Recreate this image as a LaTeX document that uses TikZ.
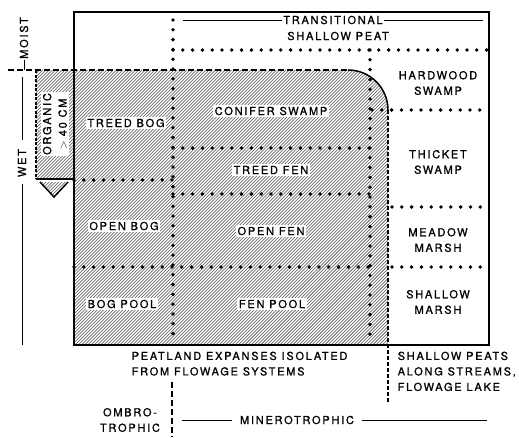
\documentclass[tikz,border=0pt]{standalone}
\usepackage{fontspec}
\setmainfont{TeX Gyre Heros}[FakeBold=1]
\usetikzlibrary{positioning}

\begin{document}
\begin{tikzpicture}[x=1pt, y=-1pt,
  lbl/.style={font=\fontsize{11}{15.5}\selectfont\addfontfeatures{LetterSpace=16}, align=center, inner sep=1.5pt},
  cell/.style={lbl, fill=white},
  dots/.style={line width=3.8pt, line cap=round, dash pattern=on 0pt off 9.8pt},
  bounds/.style={line width=2.4pt, dash pattern=on 6pt off 3pt},
  frame/.style={line width=1.5pt},
  rule/.style={line width=0.8pt},
  hatch/.style={line width=0.55pt, black!70},
]
  \useasboundingbox (0,0) rectangle (519,437);

  % hatched peatland field
  \begin{scope}
    \clip (36,70) -- (348,70) arc[start angle=-90, end angle=0, radius=40] -- (388,345) -- (74,345) -- (74,179) -- (36,179) -- cycle
          (40,182) -- (54,197) -- (68,182) -- cycle;
    \foreach \k in {100,103.2,...,740}
      \draw[hatch] (\k-400,400) -- (\k,0);
  \end{scope}

  % frame and boundaries
  \draw[frame] (74,12) rectangle (489,345);
  \draw[frame] (36,179) -- (74,179);
  \draw[frame] (40,182) -- (54,197) -- (68,182);
  \draw[line width=1.4pt, dash pattern=on 3pt off 1.5pt] (36,70) -- (36,179);
  \draw[bounds] (8,70) -- (348,70);
  \draw[frame] (348,70) arc[start angle=-90, end angle=0, radius=40];
  \draw[bounds, dash pattern=on 4pt off 2pt] (388,110) -- (388,402);
  \draw[bounds, line width=2pt] (172,382) -- (172,437);

  % dotted class limits
  \draw[dots] (173,20) -- (173,340);
  \draw[dots] (173,50) -- (489,50);
  \draw[dots] (370,50) -- (370,340);
  \draw[dots] (372,110) -- (489,110);
  \draw[dots] (392,207) -- (489,207);
  \draw[dots] (392,267) -- (489,267);
  \draw[dots] (173,148) -- (370,148);
  \draw[dots] (74,180) -- (173,180);
  \draw[dots] (173,194) -- (370,194);
  \draw[dots] (74,267) -- (370,267);

  % moisture axis
  \node[lbl, rotate=90] (moist) at (24,38) {MOIST};
  \node[lbl, rotate=90] (wet) at (22,163) {WET};
  \draw[rule] (24,60) -- (24,70);
  \draw[rule] (22,77) -- (22,140);
  \draw[rule] (22,184) -- (22,345);

  % peatland cells
  \node[cell, rotate=90] (organic) at (55,124) {ORGANIC\\$>$ 40 CM};
  \node[cell] (treedbog) at (126,123) {TREED BOG};
  \node[cell] (conifer) at (271,111) {CONIFER SWAMP};
  \node[cell] (treedfen) at (271,170) {TREED FEN};
  \node[cell] (openbog) at (124,226) {OPEN BOG};
  \node[cell] (openfen) at (271,231) {OPEN FEN};
  \node[cell] (bogpool) at (122,304) {BOG POOL};
  \node[cell] (fenpool) at (272,304) {FEN POOL};

  % mineral wetlands
  \node[lbl] (hardwood) at (438,83) {HARDWOOD\\SWAMP};
  \node[lbl] (thicket) at (438,162) {THICKET\\SWAMP};
  \node[lbl] (meadow) at (438,240) {MEADOW\\MARSH};
  \node[lbl] (shallow) at (438,302) {SHALLOW\\MARSH};

  % transitional zone
  \node[lbl] (trans) at (333,20) {TRANSITIONAL};
  \node[lbl] (peat) at (338,36) {SHALLOW PEAT};
  \draw[rule] (183,20) -- (trans.west);
  \draw[rule] (trans.east) -- (483,20);

  % hydrology and nutrient labels
  \node[lbl, align=left, anchor=north west] (isolated) at (130,350) {PEATLAND EXPANSES ISOLATED\\FROM FLOWAGE SYSTEMS};
  \node[lbl, align=left, anchor=north west] (streams) at (396,350) {SHALLOW PEATS\\ALONG STREAMS,\\FLOWAGE LAKE};
  \node[lbl] (ombro) at (130,420) {OMBRO-\\TROPHIC};
  \node[lbl] (minero) at (297,420) {MINEROTROPHIC};
  \draw[rule] (182,420) -- ([xshift=-6pt]minero.west);
  \draw[rule] ([xshift=6pt]minero.east) -- (487,420);
\end{tikzpicture}
\end{document}
